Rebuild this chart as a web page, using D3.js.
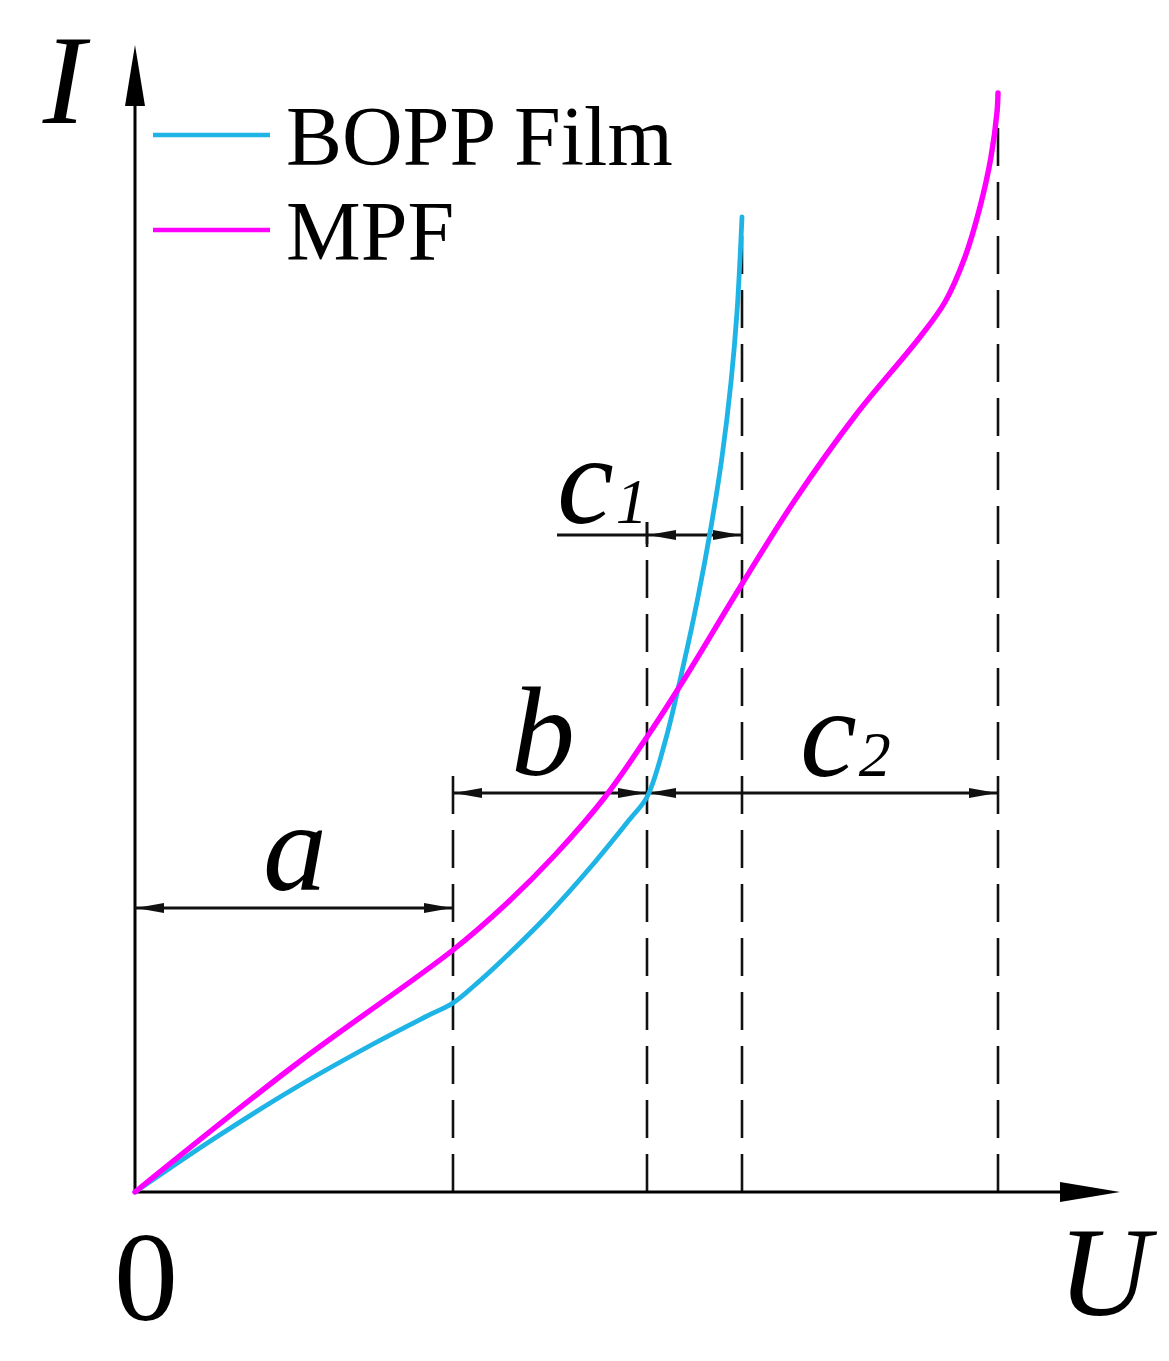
<!DOCTYPE html>
<html>
<head>
<meta charset="utf-8">
<script src="https://cdn.jsdelivr.net/npm/d3@7"></script>
<style>
html,body{margin:0;padding:0;background:#fff;}
svg{display:block;}
text{font-family:"Liberation Serif","Times New Roman",serif;fill:#000;}
</style>
</head>
<body>
<svg id="chart" width="1169" height="1361"></svg>
<script>
// ---- data (U, I in arbitrary units) ----
const seriesNames = ["BOPP Film", "MPF"];
const boppU = [0, 0.8, 1.6, 2.4, 2.9, 3.18, 3.4, 3.6, 4.1, 4.6, 4.95, 5.12, 5.3, 5.48, 5.63, 5.76, 5.87, 5.96, 6.02, 6.07];
const boppI = [0, 0.54, 1.04, 1.49, 1.75, 1.89, 2.07, 2.25, 2.74, 3.30, 3.73, 3.95, 4.50, 5.25, 5.95, 6.65, 7.35, 8.10, 8.80, 9.75];
const mpfU  = [0, 1.6, 3.18, 3.7, 4.2, 4.7, 5.12, 5.5, 6.07, 6.6, 7.2, 7.85, 8.1, 8.3, 8.45, 8.56, 8.62, 8.63];
const mpfI  = [0, 1.27, 2.42, 2.87, 3.37, 3.95, 4.55, 5.14, 6.08, 6.92, 7.76, 8.55, 8.90, 9.35, 9.85, 10.35, 10.80, 10.99];
// region boundaries on the U axis and the top of their guide lines
const boundaryU    = [3.18, 5.12, 6.07, 8.63];
const boundaryTopI = [4.30, 6.70, 9.75, 10.99];
// dimension spans
const spanFrom  = [0, 3.18, 5.12, 5.12];
const spanTo    = [3.18, 5.12, 8.63, 6.07];
const spanI     = [2.84, 3.99, 3.99, 6.57];
const spanLabel = ["a", "b", "c", "c"];
const spanSub   = ["", "", "2", "1"];

const svg = d3.select("#chart");
const x = d3.scaleLinear().domain([0, 10]).range([135, 1135]);
const y = d3.scaleLinear().domain([0, 12]).range([1192, -8]);

const colors = {"BOPP Film": "#1eb4e6", "MPF": "#ff00ff"};

// ---- boundary dashed lines ----
svg.append("g").selectAll("line").data(boundaryU).join("line")
  .attr("x1", d => x(d)).attr("x2", d => x(d))
  .attr("y1", y(0)).attr("y2", (d, i) => y(boundaryTopI[i]))
  .attr("stroke", "#111").attr("stroke-width", 2.6)
  .attr("stroke-dasharray", "38,16");

// solid short tick at top of b/c boundary (c1 extension)
svg.append("line")
  .attr("x1", x(boundaryU[1])).attr("x2", x(boundaryU[1]))
  .attr("y1", y(boundaryTopI[1])).attr("y2", y(boundaryTopI[1]) + 25)
  .attr("stroke", "#111").attr("stroke-width", 2.6);

// ---- axes ----
const axisG = svg.append("g");
axisG.append("line").attr("x1", x(0)).attr("x2", 1075).attr("y1", y(0)).attr("y2", y(0))
  .attr("stroke", "#000").attr("stroke-width", 3);
axisG.append("line").attr("x1", x(0)).attr("x2", x(0)).attr("y1", y(0)).attr("y2", 95)
  .attr("stroke", "#000").attr("stroke-width", 3);
axisG.append("path").attr("d", `M${x(0)},45 L${x(0)-10},106 L${x(0)+10},106 Z`).attr("fill", "#000");
axisG.append("path").attr("d", `M1120,${y(0)} L1060,${y(0)-10} L1060,${y(0)+10} Z`).attr("fill", "#000");

// ---- dimension arrows ----
const dimG = svg.append("g");
function arrowHead(tipX, tipY, dir) {
  const L = 28, W = 5;
  return `M${tipX},${tipY} L${tipX - dir*L},${tipY - W} L${tipX - dir*L},${tipY + W} Z`;
}
spanFrom.forEach((f, i) => {
  const x0 = x(f), x1 = x(spanTo[i]), yy = y(spanI[i]);
  let lx0 = x0;
  if (spanSub[i] === "1") lx0 = 557;
  dimG.append("line").attr("x1", lx0).attr("x2", x1).attr("y1", yy).attr("y2", yy)
    .attr("stroke", "#111").attr("stroke-width", 2.8);
  dimG.append("path").attr("d", arrowHead(x0 + 1, yy, -1)).attr("fill", "#111");
  dimG.append("path").attr("d", arrowHead(x1 - 1, yy, 1)).attr("fill", "#111");
});

// ---- curves ----
const line = d3.line().x(d => x(d[0])).y(d => y(d[1])).curve(d3.curveCatmullRom.alpha(0.5));
const boppData = boppU.map((u, i) => [u, boppI[i]]);
const mpfData = mpfU.map((u, i) => [u, mpfI[i]]);
svg.append("path").datum(boppData).attr("d", line)
  .attr("fill", "none").attr("stroke", colors["BOPP Film"]).attr("stroke-width", 4.8)
  .attr("stroke-linecap", "round");
svg.append("path").datum(mpfData).attr("d", line)
  .attr("fill", "none").attr("stroke", colors["MPF"]).attr("stroke-width", 5.4)
  .attr("stroke-linecap", "round");

// ---- legend ----
const leg = svg.append("g");
seriesNames.forEach((name, i) => {
  const yy = 135 + i * 95;
  leg.append("line").attr("x1", 153).attr("x2", 270).attr("y1", yy).attr("y2", yy)
    .attr("stroke", colors[name]).attr("stroke-width", 4.5);
  leg.append("text").attr("x", 286).attr("y", yy + 30)
    .attr("font-size", 84).text(name);
});

// ---- axis labels ----
svg.append("text").attr("x", 64).attr("y", 123).attr("text-anchor", "middle")
  .attr("font-size", 128).attr("font-style", "italic").text("I");
svg.append("text").attr("x", 146).attr("y", 1320).attr("text-anchor", "middle")
  .attr("font-size", 128).text("0");
svg.append("text").attr("x", 1104).attr("y", 1315).attr("text-anchor", "middle")
  .attr("font-size", 128).attr("font-style", "italic").text("U");

// ---- span labels ----
const labelPos = [[295, 890], [543, 775], [800, 776], [557, 523]];
spanLabel.forEach((lab, i) => {
  const t = svg.append("text").attr("x", labelPos[i][0]).attr("y", labelPos[i][1])
    .attr("font-style", "italic").attr("font-size", 128)
    .attr("text-anchor", spanSub[i] ? "start" : "middle");
  t.append("tspan").text(lab);
  if (spanSub[i]) t.append("tspan").attr("font-size", 64).attr("dx", 2).text(spanSub[i]);
});
</script>
</body>
</html>
